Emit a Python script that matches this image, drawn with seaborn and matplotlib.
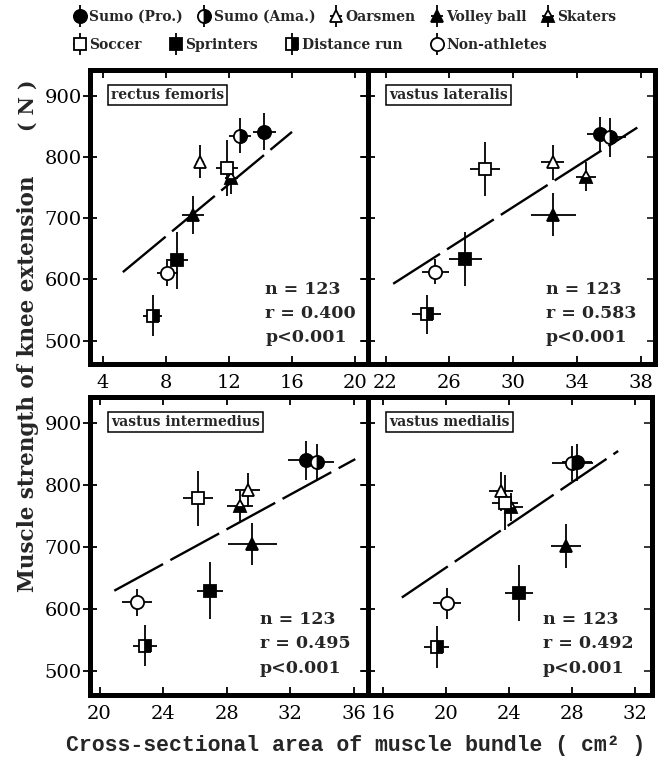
import matplotlib
matplotlib.use("Agg")
import matplotlib.pyplot as plt
from matplotlib.legend_handler import HandlerErrorbar
import seaborn as sns

# ---- groups --------------------------------------------------------------
groups = ["Sumo (Pro.)", "Sumo (Ama.)", "Oarsmen", "Volley ball", "Skaters",
          "Soccer", "Sprinters", "Distance run", "Non-athletes"]

# ---- rectus femoris ------------------------------------------------------
rf_x    = [14.24, 12.70, 10.19, 9.72, 12.15, 11.89, 8.69, 7.16, 8.10]
rf_xerr = [0.75, 0.70, 0.25, 0.70, 0.40, 0.70, 0.70, 0.60, 0.65]
rf_y    = [841, 835, 792, 706, 766, 782, 631, 541, 610]
rf_yerr = [30, 28, 27, 31, 27, 45, 46, 34, 20]
rf_line_x = [5.28, 15.99]
rf_line_y = [612, 841]

# ---- vastus lateralis ----------------------------------------------------
vl_x    = [35.47, 36.06, 32.48, 32.53, 34.55, 28.23, 27.01, 24.59, 25.12]
vl_xerr = [0.84, 1.00, 0.70, 1.40, 0.63, 0.93, 1.05, 0.90, 0.84]
vl_y    = [838, 832, 791, 706, 768, 781, 633, 543, 613]
vl_yerr = [28, 32, 28, 35, 23, 44, 44, 32, 21]
vl_line_x = [22.48, 37.79]
vl_line_y = [593, 848]

# ---- vastus intermedius --------------------------------------------------
vi_x    = [33.00, 33.69, 29.33, 29.61, 28.87, 26.22, 26.96, 22.84, 22.37]
vi_xerr = [1.16, 1.10, 0.78, 1.55, 0.82, 0.95, 0.80, 0.76, 0.93]
vi_y    = [840, 837, 792, 705, 767, 779, 630, 541, 611]
vi_yerr = [31, 30, 27, 34, 24, 44, 46, 33, 21]
vi_line_x = [20.93, 36.10]
vi_line_y = [630, 842]

# ---- vastus medialis -----------------------------------------------------
vm_x    = [28.36, 28.04, 23.52, 27.66, 24.15, 23.77, 24.63, 19.41, 20.08]
vm_xerr = [0.95, 1.30, 0.76, 0.95, 0.74, 0.82, 0.90, 0.80, 0.90]
vm_y    = [837, 835, 790, 702, 765, 772, 626, 539, 610]
vm_yerr = [30, 28, 32, 36, 23, 45, 45, 34, 25]
vm_line_x = [17.20, 30.95]
vm_line_y = [619, 855]

n_subjects = 123
r_values = ["0.400", "0.583", "0.495", "0.492"]
muscles = ["rectus femoris", "vastus lateralis", "vastus intermedius", "vastus medialis"]
y_ticks = [500, 600, 700, 800, 900]
x_ticks = [[4, 8, 12, 16, 20], [22, 26, 30, 34, 38],
           [20, 24, 28, 32, 36], [16, 20, 24, 28, 32]]

# ---- marker styles per group ---------------------------------------------
marker_shape = ["o", "o", "^", "^", "^", "s", "s", "s", "o"]
marker_fill  = ["full", "right", "open", "full", "bottom", "open", "full", "right", "open"]
marker_size  = [9.5, 9.5, 9, 9, 9, 8, 8, 8, 9.5]

sns.set_theme(style="ticks")
plt.rcParams["font.family"] = ["DejaVu Serif"]
plt.rcParams["lines.scale_dashes"] = False

fig = plt.figure(figsize=(6.63, 7.63), dpi=100)
fig.patch.set_facecolor("white")

W, H = 663, 763
def rect(x0, y0, x1, y1):
    return [x0 / W, 1 - y1 / H, (x1 - x0) / W, (y1 - y0) / H]

axes = [fig.add_axes(rect(90, 70, 368, 364)),
        fig.add_axes(rect(368, 70, 655, 364)),
        fig.add_axes(rect(90, 397, 368, 695)),
        fig.add_axes(rect(368, 397, 652, 695))]

xlims = [(3.2, 20.8), (20.9, 38.9), (19.4, 36.9), (15.05, 33.1)]
data = [(rf_x, rf_xerr, rf_y, rf_yerr, rf_line_x, rf_line_y),
        (vl_x, vl_xerr, vl_y, vl_yerr, vl_line_x, vl_line_y),
        (vi_x, vi_xerr, vi_y, vi_yerr, vi_line_x, vi_line_y),
        (vm_x, vm_xerr, vm_y, vm_yerr, vm_line_x, vm_line_y)]

legend_handles = []
for k, (ax, (xs, xe, ys, ye, lx, ly)) in enumerate(zip(axes, data)):
    ax.set_facecolor("white")
    ax.set_xlim(*xlims[k])
    ax.set_ylim(462, 942)

    # regression line
    sns.lineplot(x=lx, y=ly, ax=ax, color="black", linewidth=1.7, zorder=1)
    ax.lines[-1].set_dashes([40, 6])

    for i, g in enumerate(groups):
        kw = dict(fmt=marker_shape[i], ms=marker_size[i], mec="black", mew=1.3,
                  ecolor="black", elinewidth=1.3, capsize=0, zorder=3)
        if marker_fill[i] == "open":
            kw.update(mfc="white")
        elif marker_fill[i] == "full":
            kw.update(mfc="black")
        else:
            kw.update(mfc="black", fillstyle=marker_fill[i], markerfacecoloralt="white")
        h = ax.errorbar([xs[i]], [ys[i]], xerr=[xe[i]], yerr=[ye[i]], label=g, **kw)
        if k == 0:
            legend_handles.append(h)

    for s in ax.spines.values():
        s.set_linewidth(3.6)
        s.set_color("black")
        s.set_visible(True)

    ax.set_xticks(x_ticks[k])
    ax.set_yticks(y_ticks)
    ax.tick_params(axis="x", direction="in", length=6, width=1.3, top=True, bottom=True,
                   labelsize=14, pad=7, colors="black")
    ax.tick_params(axis="y", direction="inout", length=10, width=1.3, left=True, right=False,
                   labelsize=14, pad=1, colors="black")
    sec = ax.secondary_yaxis("right")
    sec.set_yticks(y_ticks)
    sec.tick_params(direction="in", length=6, width=1.3, labelright=False)
    sec.spines["right"].set_linewidth(3.6)
    if k in (1, 3):
        ax.tick_params(axis="y", labelleft=False)
    ax.set_xlabel("")
    ax.set_ylabel("")

    # muscle name box
    ax.text(0.075, 0.915, muscles[k], transform=ax.transAxes, ha="left", va="center",
            fontsize=10, fontweight="bold",
            bbox=dict(boxstyle="square,pad=0.22", fc="white", ec="black", lw=1.1), zorder=5)

    # statistics
    tx = [0.63, 0.62, 0.61, 0.615][k]
    for j, t in enumerate([f"n = {n_subjects}", f"r = {r_values[k]}", "p<0.001"]):
        ax.text(tx, [0.255, 0.172, 0.09][j], t, transform=ax.transAxes, ha="left",
                va="center", fontsize=12.5, fontweight="bold")

fig.text(0.042, 0.497, "Muscle strength of knee extension", rotation=90, ha="center",
         va="center", fontsize=15.5, fontweight="bold")
fig.text(0.042, 0.862, "( N )", rotation=90, ha="center", va="center",
         fontsize=14.5, fontweight="bold")
fig.text(356 / W, 1 - 745 / H, "Cross-sectional area of muscle bundle ( cm² )",
         ha="center", va="center", fontsize=15.5, fontweight="bold",
         family=["Liberation Mono", "DejaVu Sans Mono"])

hm = {h: HandlerErrorbar(xerr_size=0.45, yerr_size=0.8) for h in legend_handles}
leg_kw = dict(frameon=False, handlelength=1.1, handletextpad=0.15,
              prop=dict(family="DejaVu Serif", weight="bold", size=10), handler_map=hm,
              borderaxespad=0, borderpad=0)
leg1 = fig.legend(legend_handles[:5], groups[:5], loc="upper left", ncol=5,
                  bbox_to_anchor=(72 / W, 1 - 10 / H), columnspacing=0.95, **leg_kw)
leg2 = fig.legend(legend_handles[5:], groups[5:], loc="upper left", ncol=4,
                  bbox_to_anchor=(72 / W, 1 - 38 / H), columnspacing=1.9, **leg_kw)

fig.savefig("out.png", dpi=100, facecolor="white")
